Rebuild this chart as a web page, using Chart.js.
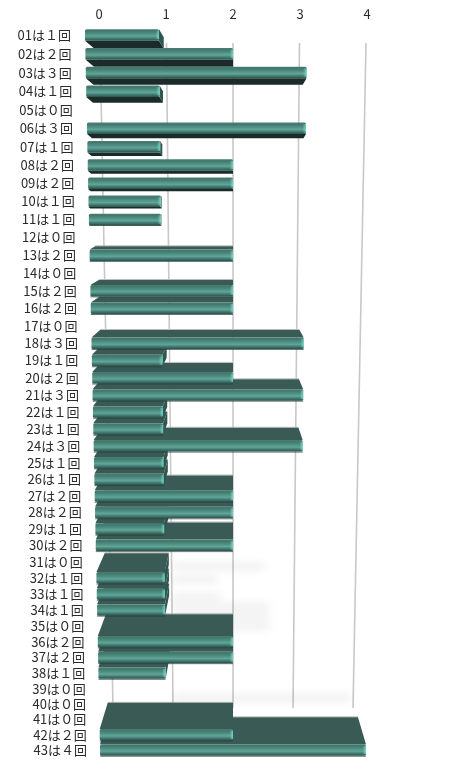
<!DOCTYPE html>
<html>
<head>
<meta charset="utf-8">
<script src="https://cdn.jsdelivr.net/npm/chart.js@4/dist/chart.umd.min.js"></script>
<style>
	html, body { margin: 0; padding: 0; background: #fff; }
	canvas { display: block; }
</style>
</head>
<body>
<canvas id="countChart" width="470" height="769"></canvas>
<script>
const categories = [
	'01は１回', '02は２回', '03は３回', '04は１回', '05は０回', '06は３回', '07は１回', '08は２回', '09は２回',
	'10は１回', '11は１回', '12は０回', '13は２回', '14は０回', '15は２回', '16は２回', '17は０回', '18は３回',
	'19は１回', '20は２回', '21は３回', '22は１回', '23は１回', '24は３回', '25は１回', '26は１回', '27は２回',
	'28は２回', '29は１回', '30は２回', '31は０回', '32は１回', '33は１回', '34は１回', '35は０回', '36は２回',
	'37は２回', '38は１回', '39は０回', '40は０回', '41は０回', '42は２回', '43は４回'
];
const counts = [
	1, 2, 3, 1, 0, 3, 1, 2, 2,
	1, 1, 0, 2, 0, 2, 2, 0, 3,
	1, 2, 3, 1, 1, 3, 1, 1, 2,
	2, 1, 2, 0, 1, 1, 1, 0, 2,
	2, 1, 0, 0, 0, 2, 4
];
// faint smudges on the back wall: row (as fractional index) and how far they reach
const wallShadowRows = [30.3, 31.1, 32.2, 32.8, 33.4, 34, 38.6];
const wallShadowValues = [2.5, 1.75, 1.8, 2.6, 2.6, 2.6, 3.95];

const CENTER_X = 233;
const HORIZON_Y = 245;

// the chart is tilted, so rows get closer together towards the bottom
function rowToScreen(u) {
	return 35 + 18.88 * u - 0.0442 * u * u;
}

function frontX(x, screenY) {
	const t = (screenY - 35) / 713;
	return CENTER_X + (x - CENTER_X) * (74 - 7.5 * t) / 67;
}

function wallX(x, screenY) {
	const t = (screenY - 43) / 665;
	return CENTER_X + (x - CENTER_X) * (66.5 - 6.5 * t) / 67;
}

function polygon(ctx, points, fill) {
	ctx.beginPath();
	points.forEach((p, i) => i ? ctx.lineTo(p[0], p[1]) : ctx.moveTo(p[0], p[1]));
	ctx.closePath();
	ctx.fillStyle = fill;
	ctx.fill();
}

function drawBar(ctx, bar, cy) {
	const half = bar.height / 2;
	const top = cy - half;
	const bottom = cy + half;
	const left = frontX(bar.base, cy);
	const right = frontX(bar.x, cy);
	const above = top >= HORIZON_Y;

	// the long face we look at, under the bar near the top and over it further down
	const edge = above ? top : bottom;
	const depth = above ? 3 + (top - HORIZON_Y) * 0.048 : Math.max(0, (HORIZON_Y - bottom) * 0.039);
	const ratio = above ? 1 - Math.min(0.06, depth * 0.012) : 1 - depth * 0.0081;
	const backY = above ? edge - depth : edge + depth;
	const backLeft = CENTER_X + (left - CENTER_X) * ratio;
	const backRight = CENTER_X + (right - CENTER_X) * ratio;

	if (above) {
		ctx.fillStyle = '#bcbcbc';
		ctx.fillRect(backLeft, backY - 1, backRight - backLeft, 1);
		ctx.fillStyle = 'rgba(40, 60, 55, 0.7)';
		ctx.fillRect(left, bottom, right - left, 1);
	}
	polygon(ctx, [[backLeft, backY], [backRight, backY], [right, edge], [left, edge]], above ? '#3a5b55' : '#1a2b29');

	// end of the bar, only seen left of the middle
	if (backRight > right) {
		const sideFar = above ? top - depth : bottom + depth;
		polygon(ctx, [[right, top], [backRight, above ? sideFar : top + depth], [backRight, above ? bottom - depth : sideFar], [right, bottom]], '#2f5650');
	}

	const shade = ctx.createLinearGradient(0, top, 0, bottom);
	shade.addColorStop(0, '#4c7d73');
	shade.addColorStop(0.15, '#42786d');
	shade.addColorStop(0.4, '#4f9083');
	shade.addColorStop(0.6, '#62a698');
	shade.addColorStop(0.8, '#417b71');
	shade.addColorStop(1, '#2b504a');
	ctx.beginPath();
	ctx.roundRect(left, top, right - left, bottom - top, 1.5);
	ctx.fillStyle = shade;
	ctx.fill();

	const tip = ctx.createLinearGradient(right - 3.5, 0, right, 0);
	tip.addColorStop(0, 'rgba(125,230,215,0)');
	tip.addColorStop(1, 'rgba(125,230,215,0.75)');
	ctx.fillStyle = tip;
	ctx.fillRect(right - 3.5, top + 1.5, 3.5, bottom - top - 3);
}

function screenRow(chart, y) {
	const first = chart.scales.y.getPixelForValue(0);
	const last = chart.scales.y.getPixelForValue(categories.length - 1);
	return rowToScreen((y - first) / (last - first) * (categories.length - 1));
}

const perspectivePlugin = {
	id: 'perspective',
	beforeDraw(chart) {
		// labels follow the left end of the bars
		chart.scales.y.getLabelItems().forEach((item) => {
			if (item.warped) return;
			const [x, y] = item.options.translation;
			const screenY = screenRow(chart, y);
			item.options.translation = [x + (screenY - 35) / 715 * 16, screenY];
			item.warped = true;
		});
	},
	beforeDatasetsDraw(chart) {
		const ctx = chart.ctx;
		const xScale = chart.scales.x;

		ctx.save();
		ctx.strokeStyle = '#c8c8c8';
		ctx.lineWidth = 1.6;
		xScale.ticks.forEach((tick) => {
			const x = xScale.getPixelForValue(tick.value);
			ctx.beginPath();
			ctx.moveTo(wallX(x, 43), 43);
			ctx.lineTo(wallX(x, 708), 708);
			ctx.stroke();
		});

		ctx.filter = 'blur(4px)';
		ctx.fillStyle = 'rgba(0, 0, 0, 0.08)';
		wallShadowRows.forEach((row, i) => {
			const y = rowToScreen(row);
			const from = wallX(xScale.getPixelForValue(1), y);
			const to = wallX(xScale.getPixelForValue(wallShadowValues[i]), y);
			ctx.fillRect(from, y - 3, to - from, 6);
		});
		ctx.restore();
	},
	beforeDatasetDraw(chart, args) {
		const ctx = chart.ctx;
		const bars = args.meta.data
			.filter((bar, i) => counts[i] > 0)
			.map((bar) => ({ bar, cy: screenRow(chart, bar.y) }));
		const upper = bars.filter((b) => b.cy - b.bar.height / 2 < HORIZON_Y);
		const lower = bars.filter((b) => b.cy - b.bar.height / 2 >= HORIZON_Y).reverse();

		ctx.save();
		upper.concat(lower).forEach((b) => drawBar(ctx, b.bar, b.cy));
		ctx.restore();
		return false;
	}
};

new Chart(document.getElementById('countChart'), {
	type: 'bar',
	data: {
		labels: categories,
		datasets: [{
			data: counts,
			backgroundColor: '#4f9083',
			barThickness: 11.5
		}]
	},
	options: {
		indexAxis: 'y',
		responsive: false,
		animation: false,
		layout: { padding: { top: 0, left: 0, right: 103, bottom: 10.5 } },
		plugins: {
			legend: { display: false },
			tooltip: { enabled: false }
		},
		scales: {
			x: {
				position: 'top',
				min: 0,
				max: 4,
				afterFit(scale) { scale.height = 26.5; },
				border: { display: false },
				grid: { display: false, drawTicks: false },
				ticks: {
					stepSize: 1,
					padding: 14,
					maxRotation: 0,
					color: '#2a2a2a',
					font: { family: '"Noto Sans CJK JP", "Noto Sans"', size: 13 }
				}
			},
			y: {
				offset: true,
				afterFit(scale) { scale.width = 99; },
				border: { display: false },
				grid: { display: false, drawTicks: false },
				ticks: {
					autoSkip: false,
					padding: 28,
					color: '#2a2a2a',
					font: { family: '"Noto Sans CJK JP", "Noto Sans"', size: 13 }
				}
			}
		}
	},
	plugins: [perspectivePlugin]
});
</script>
</body>
</html>
